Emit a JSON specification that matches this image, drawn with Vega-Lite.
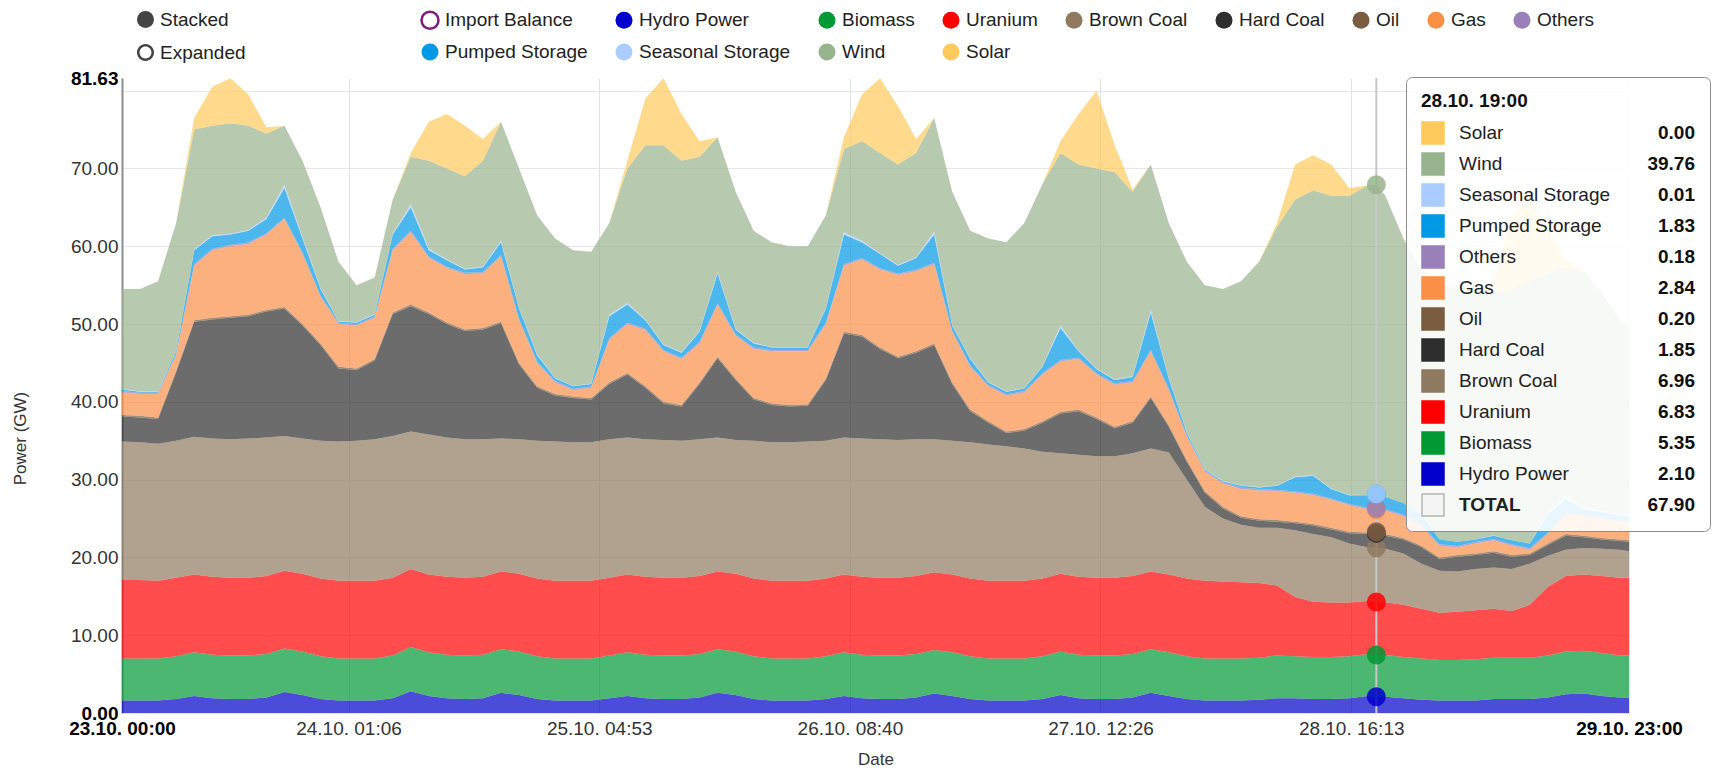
{
  "$schema": "https://vega.github.io/schema/vega-lite/v6.json",
  "width": 1507,
  "height": 635,
  "autosize": {"type": "none"},
  "padding": {"left": 122, "top": 78, "right": 89, "bottom": 62},
  "background": "white",
  "config": {"font": "Liberation Sans", "view": {"stroke": null}},
  "datasets": {
    "sources": [
      {"source": "Hydro Power", "rank": 1}, {"source": "Biomass", "rank": 2}, {"source": "Uranium", "rank": 3},
      {"source": "Brown Coal", "rank": 4}, {"source": "Hard Coal", "rank": 5}, {"source": "Oil", "rank": 6},
      {"source": "Gas", "rank": 7}, {"source": "Others", "rank": 8}, {"source": "Pumped Storage", "rank": 9},
      {"source": "Seasonal Storage", "rank": 10}, {"source": "Wind", "rank": 11}, {"source": "Solar", "rank": 12}
    ],
    "hover": [
      {"source": "Solar", "gw": 0.0}, {"source": "Wind", "gw": 39.76}, {"source": "Seasonal Storage", "gw": 0.01},
      {"source": "Pumped Storage", "gw": 1.83}, {"source": "Others", "gw": 0.18}, {"source": "Gas", "gw": 2.84},
      {"source": "Oil", "gw": 0.2}, {"source": "Hard Coal", "gw": 1.85}, {"source": "Brown Coal", "gw": 6.96},
      {"source": "Uranium", "gw": 6.83}, {"source": "Biomass", "gw": 5.35}, {"source": "Hydro Power", "gw": 2.1}
    ]
  },
  "layer": [
    {
      "data": {
        "format": {"parse": {"t": "utc:'%Y-%m-%d %H:%M'"}},
        "values": [
          {"t":"2017-10-23 00:00","Hydro Power":1.6,"Biomass":5.4,"Uranium":10.1,"Brown Coal":17.8,"Hard Coal":3.2,"Oil":0.2,"Gas":2.9,"Others":0.18,"Pumped Storage":0.22,"Seasonal Storage":0.05,"Wind":12.85,"Solar":0},
          {"t":"2017-10-23 02:00","Hydro Power":1.6,"Biomass":5.4,"Uranium":10.1,"Brown Coal":17.7,"Hard Coal":3.2,"Oil":0.2,"Gas":2.8,"Others":0.18,"Pumped Storage":0.12,"Seasonal Storage":0.05,"Wind":13.15,"Solar":0},
          {"t":"2017-10-23 04:00","Hydro Power":1.6,"Biomass":5.4,"Uranium":10.0,"Brown Coal":17.6,"Hard Coal":3.2,"Oil":0.2,"Gas":3.0,"Others":0.18,"Pumped Storage":0.12,"Seasonal Storage":0.05,"Wind":14.15,"Solar":0},
          {"t":"2017-10-23 06:00","Hydro Power":1.8,"Biomass":5.5,"Uranium":10.1,"Brown Coal":17.6,"Hard Coal":8.8,"Oil":0.2,"Gas":2.0,"Others":0.18,"Pumped Storage":0.32,"Seasonal Storage":0.05,"Wind":16.45,"Solar":0},
          {"t":"2017-10-23 08:00","Hydro Power":2.2,"Biomass":5.6,"Uranium":10.0,"Brown Coal":17.7,"Hard Coal":14.8,"Oil":0.2,"Gas":7.0,"Others":0.18,"Pumped Storage":1.82,"Seasonal Storage":0.1,"Wind":15.4,"Solar":1.5},
          {"t":"2017-10-23 10:00","Hydro Power":1.9,"Biomass":5.6,"Uranium":10.0,"Brown Coal":17.8,"Hard Coal":15.3,"Oil":0.2,"Gas":8.7,"Others":0.18,"Pumped Storage":1.62,"Seasonal Storage":0.1,"Wind":14.1,"Solar":5.0},
          {"t":"2017-10-23 12:00","Hydro Power":1.8,"Biomass":5.6,"Uranium":10.0,"Brown Coal":17.8,"Hard Coal":15.6,"Oil":0.2,"Gas":9.0,"Others":0.18,"Pumped Storage":1.32,"Seasonal Storage":0.1,"Wind":14.2,"Solar":5.8},
          {"t":"2017-10-23 14:00","Hydro Power":1.8,"Biomass":5.6,"Uranium":10.0,"Brown Coal":17.9,"Hard Coal":15.7,"Oil":0.2,"Gas":9.1,"Others":0.18,"Pumped Storage":1.52,"Seasonal Storage":0.1,"Wind":13.4,"Solar":4.0},
          {"t":"2017-10-23 16:00","Hydro Power":2.0,"Biomass":5.6,"Uranium":10.0,"Brown Coal":17.8,"Hard Coal":16.2,"Oil":0.2,"Gas":9.7,"Others":0.18,"Pumped Storage":1.82,"Seasonal Storage":0.2,"Wind":10.8,"Solar":0.8},
          {"t":"2017-10-23 18:00","Hydro Power":2.7,"Biomass":5.6,"Uranium":10.0,"Brown Coal":17.3,"Hard Coal":16.4,"Oil":0.2,"Gas":11.3,"Others":0.18,"Pumped Storage":3.82,"Seasonal Storage":0.4,"Wind":7.6,"Solar":0},
          {"t":"2017-10-23 20:00","Hydro Power":2.3,"Biomass":5.6,"Uranium":10.0,"Brown Coal":17.4,"Hard Coal":14.5,"Oil":0.2,"Gas":9.0,"Others":0.18,"Pumped Storage":1.82,"Seasonal Storage":0.2,"Wind":9.8,"Solar":0},
          {"t":"2017-10-23 22:00","Hydro Power":1.8,"Biomass":5.5,"Uranium":10.0,"Brown Coal":17.7,"Hard Coal":12.3,"Oil":0.2,"Gas":6.0,"Others":0.18,"Pumped Storage":0.82,"Seasonal Storage":0.1,"Wind":10.4,"Solar":0},
          {"t":"2017-10-24 00:00","Hydro Power":1.6,"Biomass":5.4,"Uranium":10.0,"Brown Coal":17.9,"Hard Coal":9.4,"Oil":0.2,"Gas":5.5,"Others":0.18,"Pumped Storage":0.12,"Seasonal Storage":0.05,"Wind":7.65,"Solar":0},
          {"t":"2017-10-24 02:00","Hydro Power":1.6,"Biomass":5.4,"Uranium":10.0,"Brown Coal":18.0,"Hard Coal":9.1,"Oil":0.2,"Gas":5.5,"Others":0.18,"Pumped Storage":0.22,"Seasonal Storage":0.05,"Wind":4.75,"Solar":0},
          {"t":"2017-10-24 04:00","Hydro Power":1.6,"Biomass":5.4,"Uranium":10.0,"Brown Coal":18.2,"Hard Coal":10.1,"Oil":0.2,"Gas":5.3,"Others":0.18,"Pumped Storage":0.22,"Seasonal Storage":0.05,"Wind":4.75,"Solar":0},
          {"t":"2017-10-24 06:00","Hydro Power":1.9,"Biomass":5.5,"Uranium":10.0,"Brown Coal":18.2,"Hard Coal":15.7,"Oil":0.2,"Gas":8.0,"Others":0.18,"Pumped Storage":1.82,"Seasonal Storage":0.1,"Wind":4.4,"Solar":0},
          {"t":"2017-10-24 08:00","Hydro Power":2.8,"Biomass":5.7,"Uranium":10.0,"Brown Coal":17.7,"Hard Coal":16.1,"Oil":0.2,"Gas":9.3,"Others":0.18,"Pumped Storage":3.02,"Seasonal Storage":0.4,"Wind":6.1,"Solar":0.5},
          {"t":"2017-10-24 10:00","Hydro Power":2.2,"Biomass":5.6,"Uranium":10.0,"Brown Coal":18.0,"Hard Coal":15.5,"Oil":0.2,"Gas":7.0,"Others":0.18,"Pumped Storage":0.82,"Seasonal Storage":0.2,"Wind":11.3,"Solar":5.0},
          {"t":"2017-10-24 12:00","Hydro Power":1.9,"Biomass":5.6,"Uranium":10.0,"Brown Coal":17.9,"Hard Coal":14.6,"Oil":0.2,"Gas":7.0,"Others":0.18,"Pumped Storage":0.82,"Seasonal Storage":0.1,"Wind":11.7,"Solar":7.0},
          {"t":"2017-10-24 14:00","Hydro Power":1.8,"Biomass":5.6,"Uranium":10.0,"Brown Coal":17.8,"Hard Coal":13.9,"Oil":0.2,"Gas":7.1,"Others":0.18,"Pumped Storage":0.42,"Seasonal Storage":0.1,"Wind":11.9,"Solar":6.5},
          {"t":"2017-10-24 16:00","Hydro Power":1.9,"Biomass":5.6,"Uranium":10.0,"Brown Coal":17.7,"Hard Coal":14.1,"Oil":0.2,"Gas":7.0,"Others":0.18,"Pumped Storage":0.62,"Seasonal Storage":0.1,"Wind":13.6,"Solar":2.8},
          {"t":"2017-10-24 18:00","Hydro Power":2.6,"Biomass":5.6,"Uranium":10.0,"Brown Coal":17.1,"Hard Coal":14.8,"Oil":0.2,"Gas":8.4,"Others":0.18,"Pumped Storage":1.62,"Seasonal Storage":0.2,"Wind":15.3,"Solar":0},
          {"t":"2017-10-24 20:00","Hydro Power":2.3,"Biomass":5.6,"Uranium":10.0,"Brown Coal":17.3,"Hard Coal":9.6,"Oil":0.2,"Gas":5.5,"Others":0.18,"Pumped Storage":1.32,"Seasonal Storage":0.1,"Wind":17.9,"Solar":0},
          {"t":"2017-10-24 22:00","Hydro Power":1.8,"Biomass":5.5,"Uranium":10.0,"Brown Coal":17.7,"Hard Coal":6.8,"Oil":0.2,"Gas":3.0,"Others":0.18,"Pumped Storage":0.82,"Seasonal Storage":0.1,"Wind":17.9,"Solar":0},
          {"t":"2017-10-25 00:00","Hydro Power":1.6,"Biomass":5.4,"Uranium":10.0,"Brown Coal":17.9,"Hard Coal":5.9,"Oil":0.2,"Gas":1.5,"Others":0.18,"Pumped Storage":0.32,"Seasonal Storage":0.05,"Wind":17.95,"Solar":0},
          {"t":"2017-10-25 02:00","Hydro Power":1.6,"Biomass":5.4,"Uranium":10.0,"Brown Coal":17.8,"Hard Coal":5.7,"Oil":0.2,"Gas":0.8,"Others":0.18,"Pumped Storage":0.32,"Seasonal Storage":0.05,"Wind":17.45,"Solar":0},
          {"t":"2017-10-25 04:00","Hydro Power":1.6,"Biomass":5.4,"Uranium":10.0,"Brown Coal":17.8,"Hard Coal":5.5,"Oil":0.2,"Gas":1.3,"Others":0.18,"Pumped Storage":0.32,"Seasonal Storage":0.05,"Wind":16.95,"Solar":0},
          {"t":"2017-10-25 06:00","Hydro Power":1.9,"Biomass":5.5,"Uranium":10.0,"Brown Coal":17.8,"Hard Coal":7.1,"Oil":0.2,"Gas":5.5,"Others":0.18,"Pumped Storage":2.82,"Seasonal Storage":0.2,"Wind":11.8,"Solar":0},
          {"t":"2017-10-25 08:00","Hydro Power":2.2,"Biomass":5.6,"Uranium":10.0,"Brown Coal":17.6,"Hard Coal":8.1,"Oil":0.2,"Gas":6.3,"Others":0.18,"Pumped Storage":2.32,"Seasonal Storage":0.2,"Wind":17.3,"Solar":1.0},
          {"t":"2017-10-25 10:00","Hydro Power":1.9,"Biomass":5.6,"Uranium":10.0,"Brown Coal":17.7,"Hard Coal":6.6,"Oil":0.2,"Gas":7.2,"Others":0.18,"Pumped Storage":1.12,"Seasonal Storage":0.1,"Wind":22.4,"Solar":6.0},
          {"t":"2017-10-25 12:00","Hydro Power":1.8,"Biomass":5.6,"Uranium":10.0,"Brown Coal":17.7,"Hard Coal":4.7,"Oil":0.2,"Gas":6.5,"Others":0.18,"Pumped Storage":0.62,"Seasonal Storage":0.1,"Wind":25.6,"Solar":8.6},
          {"t":"2017-10-25 14:00","Hydro Power":1.8,"Biomass":5.6,"Uranium":10.0,"Brown Coal":17.6,"Hard Coal":4.4,"Oil":0.2,"Gas":5.9,"Others":0.18,"Pumped Storage":0.62,"Seasonal Storage":0.1,"Wind":24.6,"Solar":6.0},
          {"t":"2017-10-25 16:00","Hydro Power":2.0,"Biomass":5.6,"Uranium":10.0,"Brown Coal":17.6,"Hard Coal":7.1,"Oil":0.2,"Gas":5.0,"Others":0.18,"Pumped Storage":1.32,"Seasonal Storage":0.1,"Wind":22.4,"Solar":2.0},
          {"t":"2017-10-25 18:00","Hydro Power":2.6,"Biomass":5.6,"Uranium":10.0,"Brown Coal":17.2,"Hard Coal":10.2,"Oil":0.2,"Gas":6.7,"Others":0.18,"Pumped Storage":3.82,"Seasonal Storage":0.2,"Wind":17.3,"Solar":0},
          {"t":"2017-10-25 20:00","Hydro Power":2.3,"Biomass":5.6,"Uranium":10.0,"Brown Coal":17.2,"Hard Coal":7.7,"Oil":0.2,"Gas":5.5,"Others":0.18,"Pumped Storage":0.62,"Seasonal Storage":0.1,"Wind":17.6,"Solar":0},
          {"t":"2017-10-25 22:00","Hydro Power":1.8,"Biomass":5.5,"Uranium":10.0,"Brown Coal":17.7,"Hard Coal":5.3,"Oil":0.2,"Gas":6.3,"Others":0.18,"Pumped Storage":0.52,"Seasonal Storage":0.1,"Wind":14.4,"Solar":0},
          {"t":"2017-10-26 00:00","Hydro Power":1.6,"Biomass":5.4,"Uranium":10.0,"Brown Coal":17.8,"Hard Coal":4.8,"Oil":0.2,"Gas":6.7,"Others":0.18,"Pumped Storage":0.32,"Seasonal Storage":0.05,"Wind":13.45,"Solar":0},
          {"t":"2017-10-26 02:00","Hydro Power":1.6,"Biomass":5.4,"Uranium":10.0,"Brown Coal":17.8,"Hard Coal":4.6,"Oil":0.2,"Gas":6.9,"Others":0.18,"Pumped Storage":0.32,"Seasonal Storage":0.05,"Wind":12.95,"Solar":0},
          {"t":"2017-10-26 04:00","Hydro Power":1.6,"Biomass":5.4,"Uranium":10.0,"Brown Coal":17.9,"Hard Coal":4.6,"Oil":0.2,"Gas":6.8,"Others":0.18,"Pumped Storage":0.32,"Seasonal Storage":0.05,"Wind":12.95,"Solar":0},
          {"t":"2017-10-26 06:00","Hydro Power":1.8,"Biomass":5.5,"Uranium":10.0,"Brown Coal":17.7,"Hard Coal":7.8,"Oil":0.2,"Gas":7.0,"Others":0.18,"Pumped Storage":1.82,"Seasonal Storage":0.1,"Wind":11.9,"Solar":0},
          {"t":"2017-10-26 08:00","Hydro Power":2.2,"Biomass":5.6,"Uranium":10.0,"Brown Coal":17.6,"Hard Coal":13.4,"Oil":0.2,"Gas":8.5,"Others":0.18,"Pumped Storage":3.82,"Seasonal Storage":0.3,"Wind":10.7,"Solar":1.5},
          {"t":"2017-10-26 10:00","Hydro Power":1.9,"Biomass":5.6,"Uranium":10.0,"Brown Coal":17.8,"Hard Coal":13.1,"Oil":0.2,"Gas":9.7,"Others":0.18,"Pumped Storage":2.02,"Seasonal Storage":0.2,"Wind":12.8,"Solar":6.0},
          {"t":"2017-10-26 12:00","Hydro Power":1.8,"Biomass":5.6,"Uranium":10.0,"Brown Coal":17.8,"Hard Coal":11.6,"Oil":0.2,"Gas":10.0,"Others":0.18,"Pumped Storage":1.82,"Seasonal Storage":0.1,"Wind":12.9,"Solar":9.6},
          {"t":"2017-10-26 14:00","Hydro Power":1.8,"Biomass":5.6,"Uranium":10.0,"Brown Coal":17.7,"Hard Coal":10.5,"Oil":0.2,"Gas":10.5,"Others":0.18,"Pumped Storage":1.02,"Seasonal Storage":0.1,"Wind":12.9,"Solar":7.5},
          {"t":"2017-10-26 16:00","Hydro Power":2.0,"Biomass":5.6,"Uranium":10.0,"Brown Coal":17.6,"Hard Coal":11.1,"Oil":0.2,"Gas":10.3,"Others":0.18,"Pumped Storage":1.52,"Seasonal Storage":0.1,"Wind":13.4,"Solar":1.8},
          {"t":"2017-10-26 18:00","Hydro Power":2.5,"Biomass":5.6,"Uranium":10.0,"Brown Coal":17.1,"Hard Coal":12.1,"Oil":0.2,"Gas":10.2,"Others":0.18,"Pumped Storage":3.62,"Seasonal Storage":0.4,"Wind":14.6,"Solar":0},
          {"t":"2017-10-26 20:00","Hydro Power":2.2,"Biomass":5.6,"Uranium":10.0,"Brown Coal":17.2,"Hard Coal":7.3,"Oil":0.2,"Gas":6.5,"Others":0.18,"Pumped Storage":0.62,"Seasonal Storage":0.1,"Wind":17.1,"Solar":0},
          {"t":"2017-10-26 22:00","Hydro Power":1.8,"Biomass":5.5,"Uranium":10.0,"Brown Coal":17.5,"Hard Coal":4.0,"Oil":0.2,"Gas":5.5,"Others":0.18,"Pumped Storage":0.82,"Seasonal Storage":0.1,"Wind":16.4,"Solar":0},
          {"t":"2017-10-27 00:00","Hydro Power":1.6,"Biomass":5.4,"Uranium":10.0,"Brown Coal":17.5,"Hard Coal":2.8,"Oil":0.2,"Gas":4.5,"Others":0.18,"Pumped Storage":0.32,"Seasonal Storage":0.05,"Wind":18.45,"Solar":0},
          {"t":"2017-10-27 02:00","Hydro Power":1.6,"Biomass":5.4,"Uranium":10.0,"Brown Coal":17.3,"Hard Coal":1.7,"Oil":0.2,"Gas":4.6,"Others":0.18,"Pumped Storage":0.32,"Seasonal Storage":0.05,"Wind":19.15,"Solar":0},
          {"t":"2017-10-27 04:00","Hydro Power":1.6,"Biomass":5.4,"Uranium":10.0,"Brown Coal":17.0,"Hard Coal":2.3,"Oil":0.2,"Gas":4.7,"Others":0.18,"Pumped Storage":0.32,"Seasonal Storage":0.05,"Wind":21.25,"Solar":0},
          {"t":"2017-10-27 06:00","Hydro Power":1.8,"Biomass":5.5,"Uranium":10.0,"Brown Coal":16.3,"Hard Coal":3.7,"Oil":0.2,"Gas":6.0,"Others":0.18,"Pumped Storage":0.82,"Seasonal Storage":0.1,"Wind":23.4,"Solar":0},
          {"t":"2017-10-27 08:00","Hydro Power":2.3,"Biomass":5.6,"Uranium":10.0,"Brown Coal":15.5,"Hard Coal":5.1,"Oil":0.2,"Gas":6.5,"Others":0.18,"Pumped Storage":4.12,"Seasonal Storage":0.3,"Wind":22.2,"Solar":1.5},
          {"t":"2017-10-27 10:00","Hydro Power":1.9,"Biomass":5.6,"Uranium":10.0,"Brown Coal":15.7,"Hard Coal":5.6,"Oil":0.2,"Gas":6.5,"Others":0.18,"Pumped Storage":0.82,"Seasonal Storage":0.1,"Wind":23.9,"Solar":6.5},
          {"t":"2017-10-27 12:00","Hydro Power":1.8,"Biomass":5.6,"Uranium":10.0,"Brown Coal":15.6,"Hard Coal":4.8,"Oil":0.2,"Gas":5.5,"Others":0.18,"Pumped Storage":0.52,"Seasonal Storage":0.1,"Wind":25.7,"Solar":10.0},
          {"t":"2017-10-27 14:00","Hydro Power":1.8,"Biomass":5.6,"Uranium":10.0,"Brown Coal":15.6,"Hard Coal":3.6,"Oil":0.2,"Gas":5.4,"Others":0.18,"Pumped Storage":0.42,"Seasonal Storage":0.1,"Wind":26.6,"Solar":3.5},
          {"t":"2017-10-27 16:00","Hydro Power":2.0,"Biomass":5.6,"Uranium":10.0,"Brown Coal":15.8,"Hard Coal":3.9,"Oil":0.2,"Gas":5.0,"Others":0.18,"Pumped Storage":0.52,"Seasonal Storage":0.1,"Wind":23.7,"Solar":0.3},
          {"t":"2017-10-27 18:00","Hydro Power":2.6,"Biomass":5.6,"Uranium":10.0,"Brown Coal":15.8,"Hard Coal":6.5,"Oil":0.2,"Gas":5.8,"Others":0.18,"Pumped Storage":4.82,"Seasonal Storage":0.3,"Wind":18.7,"Solar":0},
          {"t":"2017-10-27 20:00","Hydro Power":2.2,"Biomass":5.6,"Uranium":10.0,"Brown Coal":15.7,"Hard Coal":3.3,"Oil":0.2,"Gas":4.5,"Others":0.18,"Pumped Storage":1.32,"Seasonal Storage":0.1,"Wind":19.9,"Solar":0},
          {"t":"2017-10-27 22:00","Hydro Power":1.8,"Biomass":5.5,"Uranium":10.0,"Brown Coal":12.7,"Hard Coal":2.3,"Oil":0.2,"Gas":3.0,"Others":0.18,"Pumped Storage":0.32,"Seasonal Storage":0.05,"Wind":21.95,"Solar":0},
          {"t":"2017-10-28 00:00","Hydro Power":1.6,"Biomass":5.4,"Uranium":10.0,"Brown Coal":9.5,"Hard Coal":1.8,"Oil":0.2,"Gas":2.5,"Others":0.18,"Pumped Storage":0.12,"Seasonal Storage":0.05,"Wind":23.65,"Solar":0},
          {"t":"2017-10-28 02:00","Hydro Power":1.6,"Biomass":5.4,"Uranium":9.9,"Brown Coal":8.1,"Hard Coal":1.3,"Oil":0.2,"Gas":3.0,"Others":0.18,"Pumped Storage":0.12,"Seasonal Storage":0.05,"Wind":24.65,"Solar":0},
          {"t":"2017-10-28 04:00","Hydro Power":1.6,"Biomass":5.4,"Uranium":9.8,"Brown Coal":7.4,"Hard Coal":0.9,"Oil":0.2,"Gas":3.5,"Others":0.18,"Pumped Storage":0.22,"Seasonal Storage":0.05,"Wind":26.25,"Solar":0},
          {"t":"2017-10-28 06:00","Hydro Power":1.7,"Biomass":5.4,"Uranium":9.6,"Brown Coal":7.1,"Hard Coal":0.9,"Oil":0.2,"Gas":3.7,"Others":0.18,"Pumped Storage":0.22,"Seasonal Storage":0.05,"Wind":28.95,"Solar":0},
          {"t":"2017-10-28 08:00","Hydro Power":1.9,"Biomass":5.5,"Uranium":9.0,"Brown Coal":7.4,"Hard Coal":0.8,"Oil":0.2,"Gas":3.7,"Others":0.18,"Pumped Storage":0.52,"Seasonal Storage":0.05,"Wind":33.25,"Solar":0.5},
          {"t":"2017-10-28 10:00","Hydro Power":1.9,"Biomass":5.4,"Uranium":7.6,"Brown Coal":8.6,"Hard Coal":0.9,"Oil":0.2,"Gas":3.7,"Others":0.18,"Pumped Storage":1.82,"Seasonal Storage":0.1,"Wind":35.6,"Solar":4.5},
          {"t":"2017-10-28 12:00","Hydro Power":1.8,"Biomass":5.4,"Uranium":7.1,"Brown Coal":8.7,"Hard Coal":1.1,"Oil":0.2,"Gas":3.7,"Others":0.18,"Pumped Storage":2.32,"Seasonal Storage":0.1,"Wind":36.6,"Solar":4.5},
          {"t":"2017-10-28 14:00","Hydro Power":1.8,"Biomass":5.4,"Uranium":7.0,"Brown Coal":8.4,"Hard Coal":1.0,"Oil":0.2,"Gas":3.6,"Others":0.18,"Pumped Storage":1.22,"Seasonal Storage":0.05,"Wind":37.65,"Solar":4.0},
          {"t":"2017-10-28 16:00","Hydro Power":1.9,"Biomass":5.4,"Uranium":6.9,"Brown Coal":7.6,"Hard Coal":1.3,"Oil":0.2,"Gas":3.4,"Others":0.18,"Pumped Storage":1.12,"Seasonal Storage":0.05,"Wind":38.45,"Solar":1.0},
          {"t":"2017-10-28 18:00","Hydro Power":2.2,"Biomass":5.4,"Uranium":6.8,"Brown Coal":6.9,"Hard Coal":1.7,"Oil":0.2,"Gas":3.0,"Others":0.18,"Pumped Storage":1.62,"Seasonal Storage":0.02,"Wind":39.78,"Solar":0},
          {"t":"2017-10-28 19:00","Hydro Power":2.1,"Biomass":5.35,"Uranium":6.83,"Brown Coal":6.96,"Hard Coal":1.85,"Oil":0.2,"Gas":2.84,"Others":0.18,"Pumped Storage":1.83,"Seasonal Storage":0.01,"Wind":39.76,"Solar":0},
          {"t":"2017-10-28 20:00","Hydro Power":2.1,"Biomass":5.35,"Uranium":6.8,"Brown Coal":6.85,"Hard Coal":1.7,"Oil":0.2,"Gas":3.0,"Others":0.18,"Pumped Storage":1.62,"Seasonal Storage":0.01,"Wind":38.69,"Solar":0},
          {"t":"2017-10-28 22:00","Hydro Power":1.9,"Biomass":5.3,"Uranium":6.7,"Brown Coal":6.6,"Hard Coal":1.8,"Oil":0.2,"Gas":2.8,"Others":0.18,"Pumped Storage":1.52,"Seasonal Storage":0.01,"Wind":33.99,"Solar":0},
          {"t":"2017-10-29 00:00","Hydro Power":1.7,"Biomass":5.3,"Uranium":6.4,"Brown Coal":5.8,"Hard Coal":2.1,"Oil":0.2,"Gas":2.5,"Others":0.18,"Pumped Storage":1.32,"Seasonal Storage":0.01,"Wind":31.49,"Solar":0},
          {"t":"2017-10-29 02:00","Hydro Power":1.6,"Biomass":5.2,"Uranium":6.1,"Brown Coal":5.4,"Hard Coal":1.5,"Oil":0.2,"Gas":1.5,"Others":0.18,"Pumped Storage":0.62,"Seasonal Storage":0.01,"Wind":32.99,"Solar":0},
          {"t":"2017-10-29 04:00","Hydro Power":1.6,"Biomass":5.2,"Uranium":6.2,"Brown Coal":5.2,"Hard Coal":1.9,"Oil":0.2,"Gas":1.0,"Others":0.18,"Pumped Storage":0.52,"Seasonal Storage":0.01,"Wind":32.49,"Solar":0},
          {"t":"2017-10-29 06:00","Hydro Power":1.6,"Biomass":5.3,"Uranium":6.3,"Brown Coal":5.3,"Hard Coal":1.8,"Oil":0.2,"Gas":1.3,"Others":0.18,"Pumped Storage":0.32,"Seasonal Storage":0.01,"Wind":31.69,"Solar":0},
          {"t":"2017-10-29 08:00","Hydro Power":1.8,"Biomass":5.3,"Uranium":6.3,"Brown Coal":5.3,"Hard Coal":1.9,"Oil":0.2,"Gas":1.4,"Others":0.18,"Pumped Storage":0.42,"Seasonal Storage":0.01,"Wind":31.19,"Solar":1.5},
          {"t":"2017-10-29 10:00","Hydro Power":1.8,"Biomass":5.3,"Uranium":6.0,"Brown Coal":5.4,"Hard Coal":1.6,"Oil":0.2,"Gas":1.2,"Others":0.18,"Pumped Storage":0.52,"Seasonal Storage":0.01,"Wind":32.29,"Solar":9.5},
          {"t":"2017-10-29 12:00","Hydro Power":1.8,"Biomass":5.3,"Uranium":6.8,"Brown Coal":5.3,"Hard Coal":1.1,"Oil":0.2,"Gas":0.5,"Others":0.18,"Pumped Storage":0.62,"Seasonal Storage":0.01,"Wind":33.69,"Solar":10.5},
          {"t":"2017-10-29 14:00","Hydro Power":2.0,"Biomass":5.4,"Uranium":8.8,"Brown Coal":4.0,"Hard Coal":1.4,"Oil":0.2,"Gas":1.2,"Others":0.18,"Pumped Storage":2.32,"Seasonal Storage":0.3,"Wind":30.7,"Solar":6.0},
          {"t":"2017-10-29 16:00","Hydro Power":2.4,"Biomass":5.5,"Uranium":9.7,"Brown Coal":3.4,"Hard Coal":1.8,"Oil":0.2,"Gas":2.5,"Others":0.18,"Pumped Storage":1.82,"Seasonal Storage":0.5,"Wind":29.3,"Solar":1.0},
          {"t":"2017-10-29 18:00","Hydro Power":2.5,"Biomass":5.5,"Uranium":9.8,"Brown Coal":3.4,"Hard Coal":1.4,"Oil":0.2,"Gas":2.5,"Others":0.18,"Pumped Storage":0.72,"Seasonal Storage":0.3,"Wind":30.3,"Solar":0},
          {"t":"2017-10-29 20:00","Hydro Power":2.2,"Biomass":5.5,"Uranium":9.9,"Brown Coal":3.5,"Hard Coal":1.2,"Oil":0.2,"Gas":2.5,"Others":0.18,"Pumped Storage":0.62,"Seasonal Storage":0.2,"Wind":28.0,"Solar":0},
          {"t":"2017-10-29 22:00","Hydro Power":2.0,"Biomass":5.4,"Uranium":10.0,"Brown Coal":3.6,"Hard Coal":1.1,"Oil":0.2,"Gas":2.3,"Others":0.18,"Pumped Storage":0.62,"Seasonal Storage":0.2,"Wind":24.9,"Solar":0},
          {"t":"2017-10-29 23:00","Hydro Power":2.0,"Biomass":5.4,"Uranium":10.0,"Brown Coal":3.4,"Hard Coal":1.2,"Oil":0.2,"Gas":2.3,"Others":0.18,"Pumped Storage":0.62,"Seasonal Storage":0.2,"Wind":24.0,"Solar":0}
        ]
      },
      "transform": [
        {"fold": ["Hydro Power", "Biomass", "Uranium", "Brown Coal", "Hard Coal", "Oil", "Gas", "Others", "Pumped Storage", "Seasonal Storage", "Wind", "Solar"], "as": ["source", "gw"]},
        {"lookup": "source", "from": {"data": {"name": "sources"}, "key": "source", "fields": ["rank"]}}
      ],
      "mark": {"type": "area", "opacity": 0.7, "interpolate": "linear"},
      "encoding": {
        "x": {
          "field": "t", "type": "temporal", "title": "Date",
          "scale": {"type": "utc", "nice": false, "domain": [{"year": 2017, "month": 10, "date": 23, "hours": 0, "utc": true}, {"year": 2017, "month": 10, "date": 29, "hours": 23, "utc": true}]},
          "axis": {
            "values": [
              {"year": 2017, "month": 10, "date": 23, "hours": 0, "minutes": 0, "utc": true},
              {"year": 2017, "month": 10, "date": 24, "hours": 1, "minutes": 6, "utc": true},
              {"year": 2017, "month": 10, "date": 25, "hours": 4, "minutes": 53, "utc": true},
              {"year": 2017, "month": 10, "date": 26, "hours": 8, "minutes": 40, "utc": true},
              {"year": 2017, "month": 10, "date": 27, "hours": 12, "minutes": 26, "utc": true},
              {"year": 2017, "month": 10, "date": 28, "hours": 16, "minutes": 13, "utc": true},
              {"year": 2017, "month": 10, "date": 29, "hours": 23, "minutes": 0, "utc": true}
            ],
            "labelExpr": "utcFormat(datum.value, '%d.%m. %H:%M')",
            "labelFontSize": 19,
            "labelFontWeight": {"condition": {"test": "time(datum.value) < utc(2017,9,23,1) || time(datum.value) > utc(2017,9,29,22)", "value": "bold"}, "value": "normal"},
            "labelColor": {"condition": {"test": "time(datum.value) < utc(2017,9,23,1) || time(datum.value) > utc(2017,9,29,22)", "value": "#000000"}, "value": "#333333"},
            "labelFlush": false, "labelOverlap": false, "labelPadding": 6,
            "ticks": false, "domain": false, "gridColor": "#e2e2e2",
            "titleFontSize": 17, "titleFontWeight": "normal", "titleColor": "#333333",
            "titleY": 46, "titleBaseline": "middle"
          }
        },
        "y": {
          "field": "gw", "type": "quantitative", "stack": "zero", "title": "Power (GW)",
          "scale": {"domain": [0, 81.63], "nice": false},
          "axis": {
            "values": [0, 10, 20, 30, 40, 50, 60, 70, 80, 81.63],
            "labelExpr": "datum.value == 80 ? '' : format(datum.value, '.2f')",
            "labelFontSize": 19,
            "labelFontWeight": {"condition": {"test": "datum.value == 0 || datum.value > 81", "value": "bold"}, "value": "normal"},
            "labelColor": {"condition": {"test": "datum.value == 0 || datum.value > 81", "value": "#000000"}, "value": "#333333"},
            "labelPadding": 4, "labelOverlap": false,
            "ticks": false, "domainColor": "#8c8c8c", "domainWidth": 2,
            "gridColor": {"condition": {"test": "datum.value > 81", "value": "transparent"}, "value": "#e6e6e6"},
            "titleFontSize": 17, "titleFontWeight": "normal", "titleColor": "#333333",
            "titleAngle": -90, "titleX": -102, "titleY": 360, "titleBaseline": "middle", "titleAlign": "center"
          }
        },
        "color": {
          "field": "source", "type": "nominal",
          "scale": {
            "domain": ["Import Balance", "Hydro Power", "Biomass", "Uranium", "Brown Coal", "Hard Coal", "Oil", "Gas", "Others", "Pumped Storage", "Seasonal Storage", "Wind", "Solar"],
            "range": ["#ffffff", "#0000cc", "#009933", "#ff0000", "#8f7a60", "#2e2e2e", "#7a5c40", "#fa8f46", "#9980b8", "#0099e6", "#aaccff", "#98b48e", "#ffca5c"]
          },
          "legend": {
            "title": null, "orient": "none", "legendX": 298, "legendY": -68, "direction": "horizontal",
            "columns": 9, "columnPadding": 22, "rowPadding": 4, "padding": 0,
            "symbolType": "circle", "symbolSize": 289, "symbolOpacity": 1,
            "symbolStrokeWidth": 2.5,
            "symbolStrokeColor": {"expr": "datum.value === 'Import Balance' ? '#7d1c7d' : 'transparent'"},
            "labelFontSize": 19, "labelColor": "#222222", "labelOffset": 5, "labelLimit": 300
          }
        },
        "order": {"field": "rank", "type": "quantitative"}
      }
    },
    {
      "data": {"format": {"parse": {"t": "utc:'%Y-%m-%d %H:%M'"}}, "values": [{"t": "2017-10-28 19:00"}]},
      "mark": {"type": "rule", "color": "#c8c8c8", "strokeWidth": 2},
      "encoding": {"x": {"field": "t", "type": "temporal", "title": "Date"}}
    },
    {
      "data": {"values": []},
      "mark": {"type": "point", "filled": true, "color": "#444444"},
      "encoding": {
        "shape": {
          "field": "mode", "type": "nominal",
          "scale": {"domain": ["Stacked", "Expanded"], "range": ["circle", "M-1,0A1,1,0,1,0,1,0A1,1,0,1,0,-1,0ZM-0.7,0A0.7,0.7,0,1,1,0.7,0A0.7,0.7,0,1,1,-0.7,0Z"]},
          "legend": {
            "title": null, "orient": "none", "legendX": 14, "legendY": -68, "direction": "vertical",
            "padding": 0, "rowPadding": 10, "symbolSize": 289, "symbolOpacity": 1,
            "labelFontSize": 19, "labelColor": "#222222", "labelOffset": 5
          }
        }
      }
    },
    {
      "data": {"name": "hover"},
      "transform": [
        {"lookup": "source", "from": {"data": {"name": "sources"}, "key": "source", "fields": ["rank"]}},
        {"window": [{"op": "sum", "field": "gw", "as": "top"}], "sort": [{"field": "rank", "order": "ascending"}], "frame": [null, 0]},
        {"filter": "datum.gw > 0"}
      ],
      "mark": {"type": "point", "filled": true, "size": 289, "opacity": 0.85},
      "encoding": {
        "x": {"datum": {"year": 2017, "month": 10, "date": 28, "hours": 19, "utc": true}, "type": "temporal", "title": "Date"},
        "y": {"field": "top", "type": "quantitative", "title": "Power (GW)", "scale": {"domain": [0, 81.63], "nice": false}},
        "fill": {
          "field": "gw", "type": "nominal",
          "scale": {
            "domain": [0, 39.76, 0.01, 1.83, 0.18, 2.84, 0.2, 1.85, 6.96, 6.83, 5.35, 2.1, 67.9],
            "range": ["#ffca5c", "#98b48e", "#aaccff", "#0099e6", "#9980b8", "#fa8f46", "#7a5c40", "#2e2e2e", "#8f7a60", "#ff0000", "#009933", "#0000cc", "#f6f6f6"]
          },
          "legend": {
            "title": "28.10. 19:00",
            "orient": "none", "legendX": 1284, "legendY": -1, "padding": 15,
            "fillColor": "rgba(255,255,255,0.88)", "strokeColor": "#8c8c8c", "cornerRadius": 6,
            "titleFontSize": 19, "titleFontWeight": "bold", "titleColor": "#111111", "titlePadding": 10,
            "symbolType": "square", "symbolSize": 484, "symbolStrokeWidth": 1.5, "symbolOpacity": 0, "rowPadding": 8,
            "labelFontSize": 19, "labelFontWeight": "bold", "labelColor": "#111111",
            "labelAlign": "right", "labelOffset": 250,
            "labelExpr": "format(datum.value, '.2f')"
          }
        },
        "stroke": {
          "field": "source", "type": "nominal",
          "scale": {
            "domain": ["Solar", "Wind", "Seasonal Storage", "Pumped Storage", "Others", "Gas", "Oil", "Hard Coal", "Brown Coal", "Uranium", "Biomass", "Hydro Power", "TOTAL"],
            "range": ["#ffca5c", "#98b48e", "#aaccff", "#0099e6", "#9980b8", "#fa8f46", "#7a5c40", "#2e2e2e", "#8f7a60", "#ff0000", "#009933", "#0000cc", "#b4b4b4"]
          },
          "legend": {
            "title": "28.10. 19:00", "titleOpacity": 0,
            "orient": "none", "legendX": 1284, "legendY": -1, "padding": 15,
            "titleFontSize": 19, "titleFontWeight": "bold", "titlePadding": 10,
            "symbolType": "square", "symbolSize": 484, "symbolStrokeWidth": 1.5, "symbolOpacity": 1,
            "symbolFillColor": {"expr": "datum.value === 'TOTAL' ? '#f4f4f4' : scale('stroke', datum.value)"},
            "rowPadding": 3,
            "labelFontSize": 19, "labelColor": "#222222", "labelOffset": 14, "labelLimit": 300,
            "labelFontWeight": {"expr": "datum.value === 'TOTAL' ? 'bold' : 'normal'"}
          }
        },
        "order": {"field": "rank", "type": "quantitative", "sort": "ascending"}
      }
    }
  ]
}
